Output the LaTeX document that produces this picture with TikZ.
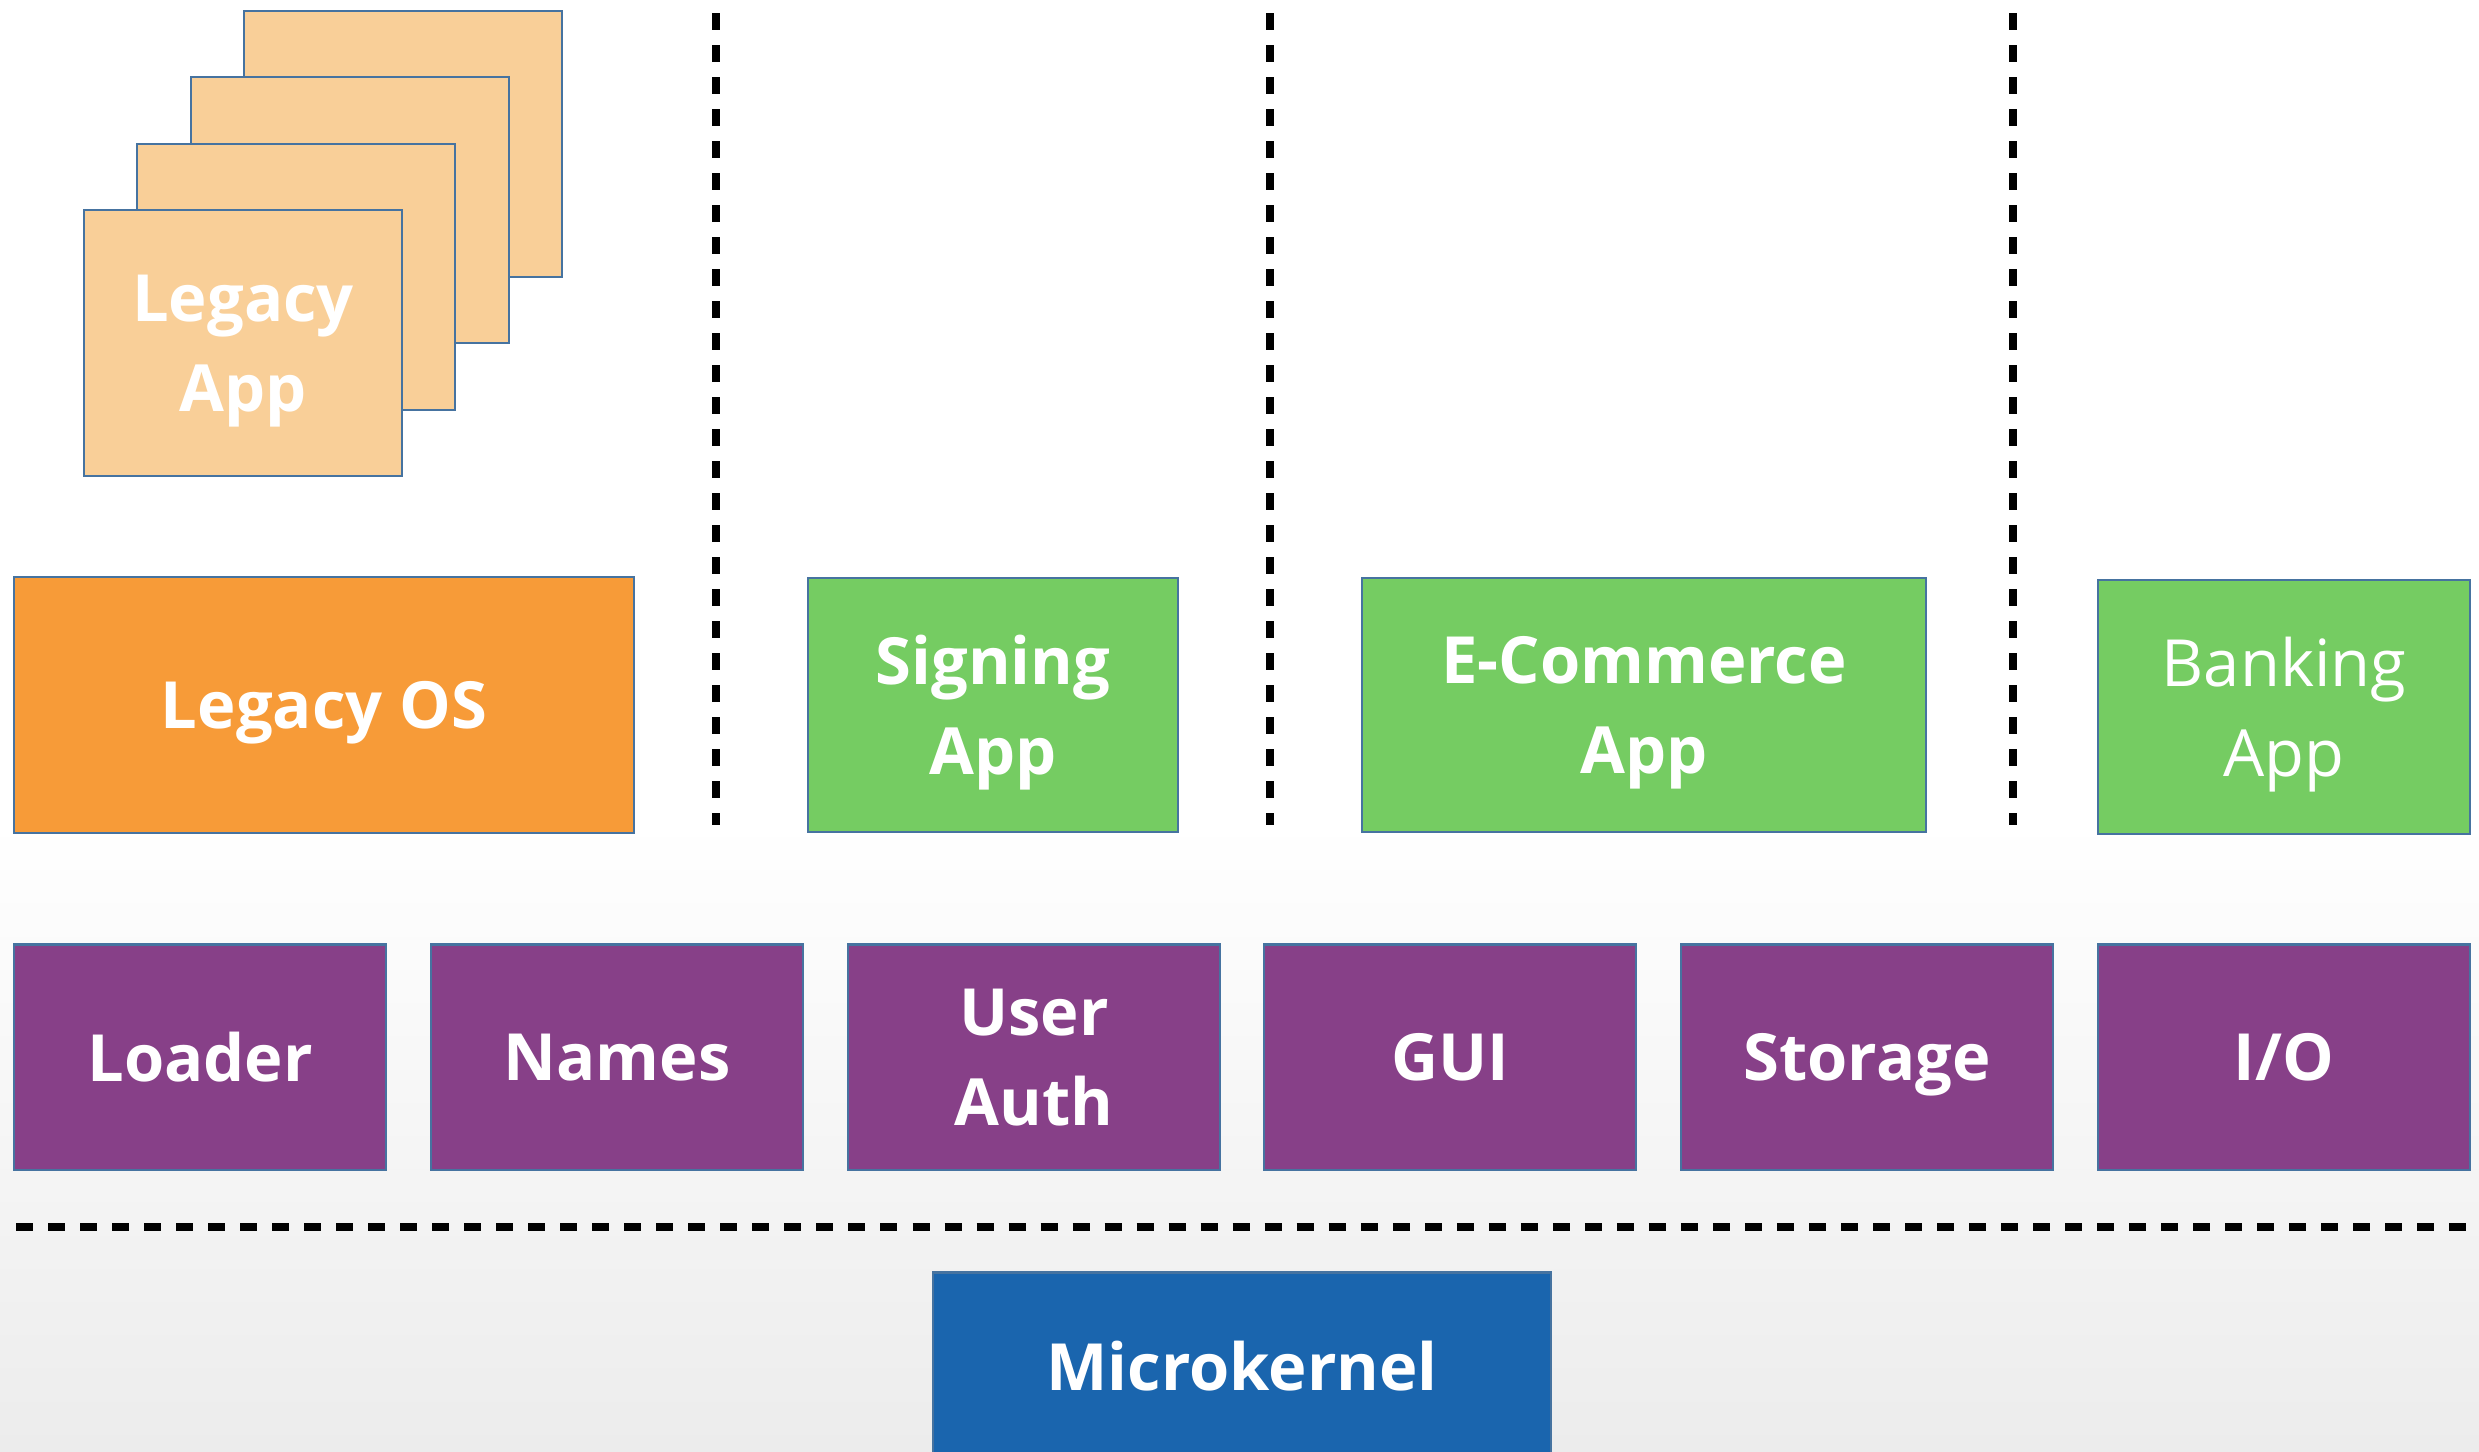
\documentclass[tikz,border=0pt]{standalone}
\usepackage{fontspec}
\setmainfont{Open Sans}
\usepackage{xcolor}
\usepackage{tikz}
\usetikzlibrary{positioning}

\definecolor{osorange}{RGB}{247,155,56}
\definecolor{appbeige}{RGB}{249,207,152}
\definecolor{appgreen}{RGB}{117,204,98}
\definecolor{svcpurple}{RGB}{135,64,136}
\definecolor{kernblue}{RGB}{26,101,174}
\definecolor{edgeblue}{RGB}{70,115,160}
\definecolor{bggray}{RGB}{236,236,236}

\tikzset{
  box/.style={draw=edgeblue, line width=0.6pt, inner sep=0pt, align=center,
    text=white, text depth=-2.4pt, font=\fontsize{18.5}{25.5}\selectfont\bfseries},
  legacybox/.style={box, fill=appbeige, minimum width=3.17cm, minimum height=2.66cm},
  appbox/.style={box, fill=appgreen, minimum height=2.53cm},
  svcbox/.style={box, fill=svcpurple, minimum width=3.72cm, minimum height=2.25cm},
  sepline/.style={line width=2.3pt, dash pattern=on 0.17cm off 0.15cm}
}

\begin{document}
\begin{tikzpicture}[x=0.01cm, y=-0.01cm]

\useasboundingbox (0,0) rectangle (2479,1451);
\fill[white] (0,0) rectangle (2479,1451);
\shade[top color=white, bottom color=bggray] (0,820) rectangle (2479,1451);

% legacy apps, stacked
\node (app4) at (403,144) [legacybox]{};
\node (app3) at (350,210) [legacybox]{};
\node (app2) at (296,277) [legacybox]{};
\node (app1) at (243,343) [legacybox]{Legacy\\App};

% top row
\node (legacyos) at (324,705) [box, fill=osorange, minimum width=6.2cm, minimum height=2.56cm]{Legacy OS};
\node (signing) at (993,705) [appbox, minimum width=3.7cm]{Signing\\App};
\node (ecommerce) at (1644,705) [appbox, minimum width=5.63cm]{E-Commerce\\App};
\node (banking) at (2284,707) [appbox, minimum width=3.72cm,
  font=\fontsize{18.5}{25.5}\selectfont]{Banking\\App};

\draw[sepline] (716,13) -- (716,825);
\draw[sepline] (1270,13) -- (1270,825);
\draw[sepline] (2013,13) -- (2013,825);

% services
\node (loader) at (200,1057) [svcbox]{Loader};
\node (names) at (617,1057) [svcbox]{Names};
\node (auth) at (1034,1057) [svcbox]{User\\Auth};
\node (gui) at (1450,1057) [svcbox]{GUI};
\node (storage) at (1867,1057) [svcbox]{Storage};
\node (io) at (2284,1057) [svcbox]{I/O};

\draw[sepline] (16,1227) -- (2466,1227);

% kernel
\node (kernel) at (1242,1366) [box, fill=kernblue, minimum width=6.18cm, minimum height=1.87cm]{Microkernel};

\end{tikzpicture}
\end{document}
